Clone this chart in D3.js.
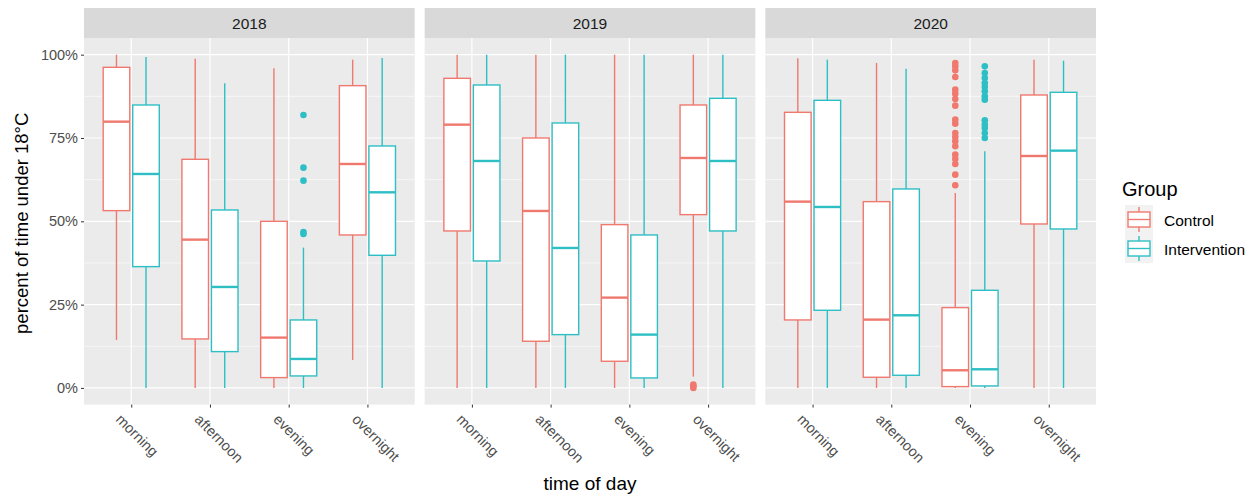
<!DOCTYPE html>
<html>
<head>
<meta charset="utf-8">
<script src="https://cdn.jsdelivr.net/npm/d3@7"></script>
<style>
  body { margin: 0; background: #fff; }
  text { font-family: "Liberation Sans", Arial, sans-serif; }
</style>
</head>
<body>
<svg id="chart" width="1257" height="497"></svg>
<script>
// facets, categories and groups
var years = ["2018", "2019", "2020"];
var times = ["morning", "afternoon", "evening", "overnight"];
var groups = ["Control", "Intervention"];
var yTicks = [0, 0.25, 0.5, 0.75, 1];

// box stats per year: [time, group, lower whisker, q1, median, q3, upper whisker]
var stats2018 = [
  ["morning", "Control", 0.144, 0.532, 0.799, 0.962, 1.0],
  ["morning", "Intervention", 0, 0.364, 0.642, 0.849, 0.993],
  ["afternoon", "Control", 0, 0.147, 0.445, 0.686, 0.988],
  ["afternoon", "Intervention", 0, 0.109, 0.303, 0.534, 0.914],
  ["evening", "Control", 0, 0.031, 0.151, 0.5, 0.959],
  ["evening", "Intervention", 0, 0.036, 0.087, 0.204, 0.421],
  ["overnight", "Control", 0.084, 0.459, 0.672, 0.907, 0.985],
  ["overnight", "Intervention", 0, 0.398, 0.587, 0.726, 0.99]
];
var stats2019 = [
  ["morning", "Control", 0, 0.471, 0.79, 0.929, 1.0],
  ["morning", "Intervention", 0, 0.381, 0.681, 0.909, 1.0],
  ["afternoon", "Control", 0, 0.14, 0.531, 0.75, 1.0],
  ["afternoon", "Intervention", 0, 0.16, 0.42, 0.795, 1.0],
  ["evening", "Control", 0, 0.08, 0.271, 0.49, 1.0],
  ["evening", "Intervention", 0, 0.03, 0.16, 0.459, 1.0],
  ["overnight", "Control", 0.034, 0.52, 0.69, 0.849, 1.0],
  ["overnight", "Intervention", 0, 0.471, 0.681, 0.869, 1.0]
];
var stats2020 = [
  ["morning", "Control", 0, 0.204, 0.559, 0.827, 0.989],
  ["morning", "Intervention", 0, 0.233, 0.543, 0.863, 0.985],
  ["afternoon", "Control", 0, 0.032, 0.205, 0.559, 0.975],
  ["afternoon", "Intervention", 0, 0.038, 0.218, 0.597, 0.958],
  ["evening", "Control", 0, 0.004, 0.053, 0.241, 0.585],
  ["evening", "Intervention", 0, 0.006, 0.056, 0.293, 0.71],
  ["overnight", "Control", 0, 0.492, 0.696, 0.879, 0.985],
  ["overnight", "Intervention", 0, 0.477, 0.712, 0.887, 0.982]
];

// outliers per year: [time, group, value]
var out2018 = [
  ["evening", "Intervention", 0.819], ["evening", "Intervention", 0.661],
  ["evening", "Intervention", 0.622], ["evening", "Intervention", 0.468],
  ["evening", "Intervention", 0.462]
];
var out2019 = [
  ["overnight", "Control", 0.01], ["overnight", "Control", 0.005],
  ["overnight", "Control", 0]
];
var out2020 = [
  ["evening", "Control", 0.975], ["evening", "Control", 0.965],
  ["evening", "Control", 0.953], ["evening", "Control", 0.933],
  ["evening", "Control", 0.895], ["evening", "Control", 0.883],
  ["evening", "Control", 0.867], ["evening", "Control", 0.847],
  ["evening", "Control", 0.805], ["evening", "Control", 0.793],
  ["evening", "Control", 0.765], ["evening", "Control", 0.753],
  ["evening", "Control", 0.74], ["evening", "Control", 0.725],
  ["evening", "Control", 0.7], ["evening", "Control", 0.687],
  ["evening", "Control", 0.672], ["evening", "Control", 0.64],
  ["evening", "Control", 0.608],
  ["evening", "Intervention", 0.965], ["evening", "Intervention", 0.945],
  ["evening", "Intervention", 0.93], ["evening", "Intervention", 0.915],
  ["evening", "Intervention", 0.903], ["evening", "Intervention", 0.89],
  ["evening", "Intervention", 0.875], ["evening", "Intervention", 0.865],
  ["evening", "Intervention", 0.803], ["evening", "Intervention", 0.79],
  ["evening", "Intervention", 0.78], ["evening", "Intervention", 0.765],
  ["evening", "Intervention", 0.75]
];

var statsByYear = {"2018": stats2018, "2019": stats2019, "2020": stats2020};
var outByYear = {"2018": out2018, "2019": out2019, "2020": out2020};

var svg = d3.select("#chart");

// layout
var left = 84, right = 1096, gap = 10;
var stripTop = 8, stripH = 30;
var panelTop = stripTop + stripH, panelBottom = 404.6;
var panelW = (right - left - gap * (years.length - 1)) / years.length;

var color = d3.scaleOrdinal().domain(groups).range(["#F0796F", "#2EBFC5"]);
var y = d3.scaleLinear().domain([-0.05, 1.05]).range([panelBottom, panelTop]);
var x = d3.scalePoint().domain(times).range([0, panelW]).padding(0.6);
var dodge = d3.scaleBand().domain(groups)
  .range([-x.step() * 0.375, x.step() * 0.375]);
var boxW = dodge.bandwidth() * 0.9;

years.forEach(function(yr, i) {
  var px = left + i * (panelW + gap);
  var g = svg.append("g").attr("transform", "translate(" + px + ",0)");

  // strip
  g.append("rect").attr("x", 0).attr("y", stripTop)
    .attr("width", panelW).attr("height", stripH).attr("fill", "#D9D9D9");
  g.append("text").attr("x", panelW / 2).attr("y", stripTop + stripH / 2)
    .attr("dy", "0.36em").attr("text-anchor", "middle")
    .attr("font-size", 15.5).attr("fill", "#1A1A1A").text(yr);

  // panel background and grid
  g.append("rect").attr("x", 0).attr("y", panelTop)
    .attr("width", panelW).attr("height", panelBottom - panelTop)
    .attr("fill", "#EBEBEB");
  var minor = d3.range(0.125, 1, 0.25);
  g.selectAll(".minor").data(minor).enter().append("line")
    .attr("x1", 0).attr("x2", panelW)
    .attr("y1", function(d) { return y(d); }).attr("y2", function(d) { return y(d); })
    .attr("stroke", "#fff").attr("stroke-width", 0.6);
  g.selectAll(".major").data(yTicks).enter().append("line")
    .attr("x1", 0).attr("x2", panelW)
    .attr("y1", function(d) { return y(d); }).attr("y2", function(d) { return y(d); })
    .attr("stroke", "#fff").attr("stroke-width", 1.2);
  g.selectAll(".vmajor").data(times).enter().append("line")
    .attr("x1", function(d) { return x(d); }).attr("x2", function(d) { return x(d); })
    .attr("y1", panelTop).attr("y2", panelBottom)
    .attr("stroke", "#fff").attr("stroke-width", 1.2);

  // x axis
  var xa = g.append("g").attr("transform", "translate(0," + panelBottom + ")")
    .call(d3.axisBottom(x).tickSize(3).tickSizeOuter(0));
  xa.select(".domain").remove();
  xa.selectAll("line").attr("stroke", "#333").attr("stroke-width", 1);
  xa.selectAll("text")
    .attr("font-size", 14.5).attr("fill", "#4D4D4D")
    .attr("text-anchor", "start")
    .attr("transform", "translate(-9,8) rotate(45)")
    .attr("x", 0).attr("y", 0).attr("dy", "0.75em");

  // boxes
  var stats = statsByYear[yr];
  var box = g.selectAll(".box").data(stats).enter().append("g")
    .attr("transform", function(d) {
      return "translate(" + (x(d[0]) + dodge(d[1]) + dodge.bandwidth() / 2) + ",0)";
    });
  box.append("line")
    .attr("y1", function(d) { return y(d[2]); }).attr("y2", function(d) { return y(d[3]); })
    .attr("stroke", function(d) { return color(d[1]); }).attr("stroke-width", 1.4);
  box.append("line")
    .attr("y1", function(d) { return y(d[5]); }).attr("y2", function(d) { return y(d[6]); })
    .attr("stroke", function(d) { return color(d[1]); }).attr("stroke-width", 1.4);
  box.append("rect")
    .attr("x", -boxW / 2).attr("width", boxW)
    .attr("y", function(d) { return y(d[5]); })
    .attr("height", function(d) { return y(d[3]) - y(d[5]); })
    .attr("fill", "#fff")
    .attr("stroke", function(d) { return color(d[1]); }).attr("stroke-width", 1.4);
  box.append("line")
    .attr("x1", -boxW / 2).attr("x2", boxW / 2)
    .attr("y1", function(d) { return y(d[4]); }).attr("y2", function(d) { return y(d[4]); })
    .attr("stroke", function(d) { return color(d[1]); }).attr("stroke-width", 2.4);

  // outliers
  g.selectAll(".out").data(outByYear[yr]).enter().append("circle")
    .attr("cx", function(d) { return x(d[0]) + dodge(d[1]) + dodge.bandwidth() / 2; })
    .attr("cy", function(d) { return y(d[2]); })
    .attr("r", 3.3)
    .attr("fill", function(d) { return color(d[1]); });

  // y axis on first panel
  if (i === 0) {
    var ya = g.append("g")
      .call(d3.axisLeft(y).tickValues(yTicks).tickSize(3).tickSizeOuter(0)
        .tickFormat(d3.format(".0%")));
    ya.select(".domain").remove();
    ya.selectAll("line").attr("stroke", "#333");
    ya.selectAll("text").attr("font-size", 14.5).attr("fill", "#4D4D4D").attr("x", -6);
  }
});

// axis titles
svg.append("text").attr("x", (left + right) / 2).attr("y", 490)
  .attr("text-anchor", "middle").attr("font-size", 19).attr("fill", "#000")
  .text("time of day");
svg.append("text")
  .attr("transform", "translate(28," + ((panelTop + panelBottom) / 2 + 2) + ") rotate(-90)")
  .attr("text-anchor", "middle").attr("font-size", 18.5).attr("fill", "#000")
  .text("percent of time under 18°C");

// legend
var lg = svg.append("g").attr("transform", "translate(1125,0)");
lg.append("text").attr("x", -3).attr("y", 196).attr("font-size", 20)
  .attr("fill", "#000").text("Group");
var key = lg.selectAll(".key").data(groups).enter().append("g")
  .attr("transform", function(d, i) { return "translate(0," + (205 + i * 29) + ")"; });
key.append("rect").attr("width", 28).attr("height", 29).attr("fill", "#F2F2F2");
key.append("line").attr("x1", 14).attr("x2", 14).attr("y1", 2).attr("y2", 27)
  .attr("stroke", function(d) { return color(d); }).attr("stroke-width", 1.4);
key.append("rect").attr("x", 3).attr("y", 7).attr("width", 22).attr("height", 15)
  .attr("fill", "#fff").attr("stroke", function(d) { return color(d); }).attr("stroke-width", 1.4);
key.append("line").attr("x1", 3).attr("x2", 25).attr("y1", 14.5).attr("y2", 14.5)
  .attr("stroke", function(d) { return color(d); }).attr("stroke-width", 1.4);
key.append("text").attr("x", 39).attr("y", 16).attr("dy", "0.35em")
  .attr("font-size", 15.5).attr("fill", "#000").text(function(d) { return d; });
</script>
</body>
</html>
